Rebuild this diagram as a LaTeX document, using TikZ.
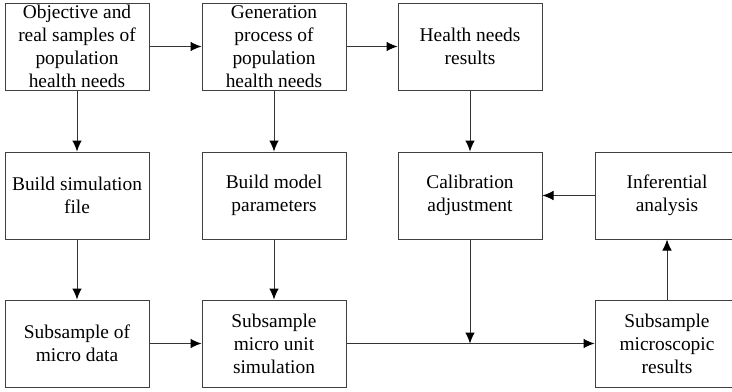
\documentclass[tikz,border=0pt]{standalone}
\usepackage{fontspec}
\setmainfont{Liberation Serif}
\usetikzlibrary{arrows.meta}
\begin{document}
\begin{tikzpicture}[x=0.5pt,y=-0.5pt,
  box/.style={draw=black!75,line width=0.5pt,minimum width=72pt,minimum height=43.5pt,
    inner sep=0pt,align=center,font=\fontsize{9.7}{11.5}\selectfont},
  arr/.style={draw=black!80,line width=0.5pt,-{Latex[length=5.5pt,width=4.8pt,black]}}]
  \useasboundingbox (0,0) rectangle (732,391);
  \clip (0,0) rectangle (732,391);
  \node[box] (obj) at (77,46.5) {Objective and\\real samples of\\population\\health needs};
  \node[box] (gen) at (274,46.5) {Generation\\process of\\population\\health needs};
  \node[box] (hres) at (470,46.5) {Health needs\\results};
  \node[box] (simfile) at (77,195.5) {Build simulation\\file};
  \node[box] (modpar) at (274,195.5) {Build model\\parameters};
  \node[box] (calib) at (470,195.5) {Calibration\\adjustment};
  \node[box] (infer) at (667,195.5) {Inferential\\analysis};
  \node[box] (micdata) at (77,343.5) {Subsample of\\micro data};
  \node[box] (unitsim) at (274,343.5) {Subsample\\micro unit\\simulation};
  \node[box] (micres) at (667,343.5) {Subsample\\microscopic\\results};
  \coordinate (join) at (calib |- unitsim);
  % top row and columns
  \draw[arr] (obj) -- (gen);
  \draw[arr] (gen) -- (hres);
  \draw[arr] (obj) -- (simfile);
  \draw[arr] (gen) -- (modpar);
  \draw[arr] (hres) -- (calib);
  \draw[arr] (simfile) -- (micdata);
  \draw[arr] (modpar) -- (unitsim);
  \draw[arr] (infer) -- (calib);
  % bottom row
  \draw[arr] (micdata) -- (unitsim);
  \draw[arr] (unitsim) -- (micres);
  \draw[arr] (calib) -- (join);
  \draw[arr] (micres) -- (infer);
\end{tikzpicture}
\end{document}
